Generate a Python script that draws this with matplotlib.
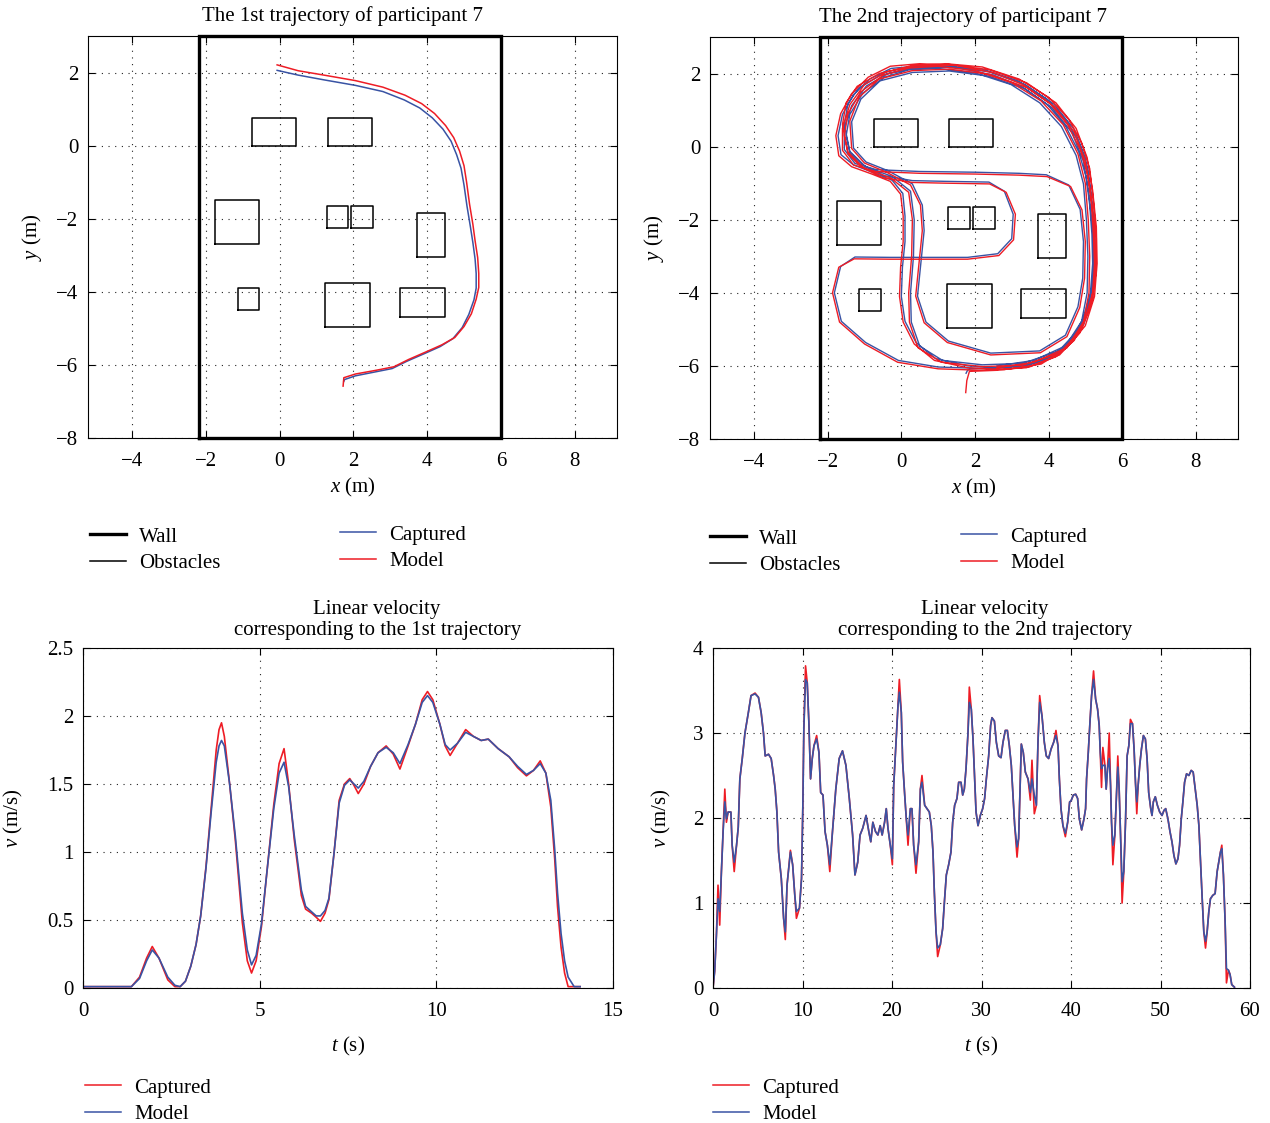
import numpy as np
import matplotlib
matplotlib.use("Agg")
from matplotlib import pyplot as plt
from matplotlib.lines import Line2D

plt.rcParams['font.family'] = ['Liberation Serif', 'DejaVu Serif']
plt.rcParams['font.size'] = 15
plt.rcParams['mathtext.fontset'] = 'custom'
plt.rcParams['mathtext.rm'] = 'Liberation Serif'
plt.rcParams['mathtext.it'] = 'Liberation Serif:italic'

RED = '#ee1c25'
BLUE = '#3953a4'

# ---- room (wall + obstacles), same for both trajectories ----
wall = [-2.2, 6.0, -8.0, 3.0]          # x0, x1, y0, y1
obstacles = [                           # x0, x1, y0, y1
    [-0.75, 0.45, 0.0, 0.75],
    [1.3, 2.5, 0.0, 0.75],
    [-1.75, -0.55, -2.7, -1.5],
    [1.27, 1.86, -2.25, -1.65],
    [1.94, 2.54, -2.25, -1.65],
    [3.72, 4.48, -3.06, -1.83],
    [-1.14, -0.55, -4.49, -3.9],
    [1.23, 2.46, -4.96, -3.77],
    [3.25, 4.48, -4.68, -3.9],
]

# ---- trajectory 1 (x, y) ----
traj1_model = np.array([
    (-0.07, 2.21), (0.5, 2.05), (1.2, 1.93), (2.05, 1.78), (2.8, 1.6), (3.4, 1.38),
    (3.85, 1.15), (4.2, 0.88), (4.5, 0.55), (4.72, 0.22), (4.88, -0.15), (5.0, -0.55),
    (5.07, -1.0), (5.15, -1.6), (5.24, -2.15), (5.3, -2.6), (5.37, -3.06), (5.4, -3.5),
    (5.4, -3.88), (5.33, -4.2), (5.2, -4.6), (5.0, -4.95), (4.75, -5.25), (4.4, -5.45),
    (4.0, -5.63), (3.5, -5.85), (3.1, -6.05), (2.6, -6.15), (2.05, -6.25), (1.74, -6.35),
    (1.72, -6.58)])
traj1_capt = np.array([
    (-0.07, 2.06), (0.5, 1.93), (1.2, 1.8), (2.05, 1.65), (2.8, 1.48), (3.38, 1.25),
    (3.8, 1.03), (4.14, 0.76), (4.43, 0.45), (4.65, 0.12), (4.8, -0.25), (4.92, -0.62),
    (5.0, -1.08), (5.08, -1.65), (5.17, -2.2), (5.24, -2.65), (5.3, -3.1), (5.33, -3.5),
    (5.33, -3.9), (5.27, -4.22), (5.13, -4.62), (4.95, -4.98), (4.7, -5.28), (4.35, -5.5),
    (3.95, -5.68), (3.45, -5.9), (3.05, -6.1), (2.55, -6.2), (2.05, -6.3), (1.76, -6.4),
    (1.74, -6.45)])

# ---- trajectory 2 (x, y) ----
traj2_model = np.array([
    (1.75, -6.73), (1.78, -6.4), (1.85, -6.15),
    (2.6, -6.12), (3.5, -6.02), (4.2, -5.75), (4.7, -5.3), (5.0, -4.7), (5.2, -4.0),
    (5.25, -3.2), (5.22, -2.4), (5.17, -1.6), (5.07, -0.8), (4.87, -0.1), (4.52, 0.6),
    (4.02, 1.2), (3.3, 1.7), (2.5, 2.02), (1.5, 2.22), (0.5, 2.27), (-0.3, 2.2),
    (-0.9, 1.9), (-1.35, 1.45), (-1.65, 0.9), (-1.78, 0.3), (-1.7, -0.25), (-1.35, -0.55),
    (-0.8, -0.75), (-0.3, -0.95), (-0.02, -1.3), (0.05, -1.9), (0.05, -2.6), (-0.02, -3.3),
    (-0.05, -4.1), (0.05, -4.8), (0.35, -5.4), (0.9, -5.85), (1.8, -6.05), (2.8, -6.1),
    (3.8, -5.95), (4.5, -5.5),
    (4.95, -4.8), (5.1, -4.0), (5.12, -3.0), (5.08, -2.0), (5.0, -1.0), (4.8, -0.2),
    (4.4, 0.6), (3.8, 1.25), (3.0, 1.75), (2.0, 2.08), (1.0, 2.2), (0.2, 2.15),
    (-0.5, 1.95), (-1.1, 1.5), (-1.45, 0.9), (-1.55, 0.3), (-1.45, -0.2), (-1.1, -0.55),
    (-0.5, -0.85), (0.3, -0.98), (1.2, -1.0), (2.4, -1.02), (2.85, -1.25), (3.1, -1.85),
    (3.05, -2.55), (2.65, -2.98), (1.8, -3.08), (0.8, -3.08), (-0.3, -3.08), (-1.28, -3.07),
    (-1.7, -3.3), (-1.87, -4.0), (-1.68, -4.8), (-1.0, -5.4), (-0.1, -5.9), (1.0, -6.08),
    (2.2, -6.12), (3.4, -6.05), (4.3, -5.7), (4.85, -5.1),
    (5.15, -4.3), (5.3, -3.4), (5.3, -2.5), (5.22, -1.5), (5.12, -0.6), (4.9, 0.1),
    (4.55, 0.75), (4.0, 1.35), (3.2, 1.85), (2.2, 2.18), (1.2, 2.27), (0.3, 2.22),
    (-0.4, 2.05), (-1.0, 1.7), (-1.4, 1.15), (-1.6, 0.5), (-1.6, -0.1), (-1.3, -0.5),
    (-0.7, -0.68), (0.5, -0.73), (2.0, -0.75), (3.2, -0.78), (3.96, -0.82), (4.6, -1.09),
    (4.91, -1.73), (5.0, -2.6), (4.98, -3.6), (4.85, -4.4), (4.5, -5.2), (3.78, -5.64),
    (2.43, -5.7), (1.25, -5.36), (0.62, -4.82), (0.39, -4.09), (0.48, -3.18), (0.57, -2.3),
    (0.52, -1.6), (0.25, -1.05), (-0.4, -0.7), (-1.0, -0.45), (-1.35, -0.05), (-1.4, 0.7),
    (-1.15, 1.35), (-0.6, 1.85), (0.3, 2.08), (1.3, 2.12), (2.4, 1.98), (3.4, 1.62),
    (4.15, 1.1), (4.7, 0.4), (5.0, -0.4), (5.15, -1.3), (5.25, -2.3), (5.28, -3.3),
    (5.2, -4.2), (4.9, -5.0), (4.3, -5.65), (3.3, -5.98), (2.2, -6.02),
    (1.1, -5.9), (0.45, -5.5), (0.22, -4.8), (0.2, -4.0), (0.28, -3.0), (0.3, -2.0),
    (0.2, -1.25), (-0.3, -0.85), (-1.0, -0.6), (-1.45, -0.15), (-1.6, 0.6), (-1.5, 1.2),
    (-1.2, 1.65), (-0.6, 2.0), (0.3, 2.2), (1.3, 2.25), (2.4, 2.1), (3.4, 1.75),
    (4.2, 1.2), (4.75, 0.5), (5.05, -0.3), (5.2, -1.2), (5.3, -2.2), (5.32, -3.2),
    (5.25, -4.1), (5.0, -4.9), (4.5, -5.5), (3.6, -5.9), (2.6, -6.05)])
traj2_capt = np.array([
    (1.76, -6.2), (1.8, -6.12), (1.88, -6.08),
    (2.6, -6.06), (3.5, -5.96), (4.18, -5.7), (4.66, -5.26), (4.95, -4.68), (5.14, -4.0),
    (5.2, -3.2), (5.18, -2.4), (5.12, -1.6), (5.02, -0.82), (4.82, -0.14), (4.47, 0.55),
    (3.98, 1.14), (3.28, 1.64), (2.5, 1.96), (1.5, 2.16), (0.5, 2.21), (-0.28, 2.14),
    (-0.86, 1.85), (-1.3, 1.42), (-1.6, 0.88), (-1.72, 0.3), (-1.64, -0.22), (-1.3, -0.5),
    (-0.76, -0.71), (-0.25, -0.92), (0.04, -1.28), (0.1, -1.9), (0.1, -2.6), (0.03, -3.3),
    (0.0, -4.1), (0.1, -4.78), (0.4, -5.36), (0.93, -5.8), (1.8, -6.0), (2.8, -6.05),
    (3.78, -5.9), (4.46, -5.46),
    (4.9, -4.78), (5.05, -4.0), (5.07, -3.0), (5.03, -2.0), (4.95, -1.02), (4.75, -0.24),
    (4.35, 0.55), (3.76, 1.2), (2.98, 1.7), (2.0, 2.02), (1.0, 2.14), (0.2, 2.1),
    (-0.46, 1.9), (-1.05, 1.46), (-1.4, 0.88), (-1.5, 0.3), (-1.4, -0.16), (-1.05, -0.5),
    (-0.46, -0.8), (0.3, -0.93), (1.2, -0.95), (2.38, -0.97), (2.8, -1.22), (3.04, -1.85),
    (3.0, -2.52), (2.62, -2.93), (1.8, -3.03), (0.8, -3.03), (-0.3, -3.03), (-1.26, -3.02),
    (-1.65, -3.28), (-1.82, -4.0), (-1.63, -4.78), (-0.97, -5.36), (-0.08, -5.85), (1.0, -6.03),
    (2.2, -6.07), (3.38, -6.0), (4.26, -5.66), (4.8, -5.07),
    (5.1, -4.3), (5.25, -3.4), (5.25, -2.5), (5.17, -1.5), (5.07, -0.62), (4.85, 0.06),
    (4.5, 0.7), (3.96, 1.3), (3.18, 1.8), (2.2, 2.12), (1.2, 2.21), (0.3, 2.16),
    (-0.36, 2.0), (-0.95, 1.66), (-1.35, 1.12), (-1.55, 0.5), (-1.55, -0.08), (-1.26, -0.46),
    (-0.68, -0.63), (0.5, -0.68), (2.0, -0.7), (3.2, -0.73), (3.94, -0.77), (4.55, -1.05),
    (4.86, -1.72), (4.95, -2.6), (4.93, -3.6), (4.8, -4.38), (4.46, -5.16), (3.76, -5.59),
    (2.43, -5.65), (1.28, -5.32), (0.67, -4.8), (0.44, -4.09), (0.53, -3.18), (0.62, -2.3),
    (0.57, -1.6), (0.3, -1.02), (-0.36, -0.66), (-0.96, -0.42), (-1.3, -0.04), (-1.35, 0.68),
    (-1.1, 1.3), (-0.58, 1.8), (0.3, 2.03), (1.3, 2.07), (2.38, 1.93), (3.36, 1.58),
    (4.1, 1.06), (4.64, 0.38), (4.95, -0.4), (5.1, -1.3), (5.2, -2.3), (5.23, -3.3),
    (5.15, -4.18), (4.86, -4.96), (4.27, -5.6), (3.3, -5.93), (2.2, -5.97),
    (1.12, -5.85), (0.5, -5.46), (0.27, -4.8), (0.25, -4.0), (0.33, -3.0), (0.35, -2.0),
    (0.25, -1.22), (-0.26, -0.81), (-0.96, -0.56), (-1.4, -0.13), (-1.55, 0.6), (-1.45, 1.18),
    (-1.16, 1.6), (-0.58, 1.95), (0.3, 2.14), (1.3, 2.19), (2.38, 2.05), (3.36, 1.7),
    (4.15, 1.16), (4.7, 0.47), (5.0, -0.3), (5.15, -1.2), (5.25, -2.2), (5.27, -3.2),
    (5.2, -4.08), (4.96, -4.86), (4.47, -5.45), (3.6, -5.85), (2.6, -6.0)])

# ---- velocity of trajectory 1 ----
t1 = [0, 0.5, 1.0, 1.37, 1.6, 1.8, 1.96, 2.15, 2.4, 2.6, 2.75, 2.9, 3.05, 3.2, 3.33,
      3.48, 3.63, 3.77, 3.85, 3.92, 4.0, 4.15, 4.31, 4.51, 4.65, 4.77, 4.9, 5.05, 5.2,
      5.4, 5.55, 5.69, 5.82, 5.98, 6.18, 6.3, 6.47, 6.6, 6.72, 6.85, 6.96, 7.1, 7.25,
      7.4, 7.55, 7.67, 7.79, 7.95, 8.14, 8.35, 8.58, 8.78, 8.97, 9.2, 9.41, 9.6, 9.75,
      9.9, 10.1, 10.25, 10.39, 10.6, 10.83, 11.05, 11.27, 11.47, 11.75, 12.06, 12.3,
      12.55, 12.75, 12.94, 13.1, 13.24, 13.35, 13.43, 13.53, 13.63, 13.73, 13.9, 14.07]
v1_capt = [0.01, 0.01, 0.01, 0.01, 0.08, 0.22, 0.305, 0.22, 0.06, 0.01, 0.01, 0.05, 0.16,
           0.32, 0.53, 0.89, 1.33, 1.75, 1.9, 1.95, 1.85, 1.5, 1.09, 0.48, 0.2, 0.11, 0.2,
           0.45, 0.84, 1.35, 1.65, 1.76, 1.5, 1.09, 0.68, 0.58, 0.55, 0.52, 0.49, 0.55, 0.65,
           0.98, 1.38, 1.5, 1.54, 1.49, 1.43, 1.5, 1.63, 1.73, 1.78, 1.72, 1.61, 1.78, 1.94,
           2.12, 2.18, 2.12, 1.94, 1.78, 1.71, 1.8, 1.9, 1.85, 1.82, 1.83, 1.76, 1.7, 1.62,
           1.56, 1.6, 1.67, 1.58, 1.33, 0.95, 0.6, 0.3, 0.11, 0.01, 0.01, 0.01]
v1_model = [0.01, 0.01, 0.01, 0.01, 0.07, 0.2, 0.28, 0.22, 0.08, 0.02, 0.01, 0.05, 0.16,
            0.32, 0.53, 0.88, 1.3, 1.66, 1.78, 1.82, 1.78, 1.5, 1.12, 0.55, 0.28, 0.17, 0.24,
            0.47, 0.84, 1.32, 1.58, 1.66, 1.48, 1.12, 0.72, 0.6, 0.56, 0.53, 0.53, 0.57, 0.66,
            0.98, 1.36, 1.49, 1.53, 1.5, 1.47, 1.52, 1.63, 1.73, 1.77, 1.73, 1.65, 1.79, 1.94,
            2.1, 2.15, 2.1, 1.94, 1.79, 1.75, 1.8, 1.88, 1.85, 1.82, 1.83, 1.76, 1.7, 1.63,
            1.57, 1.6, 1.65, 1.58, 1.38, 1.02, 0.7, 0.4, 0.2, 0.08, 0.01, 0.01]

# ---- velocity of trajectory 2 ----
t2 = [0, 0.19, 0.38, 0.56, 0.75, 0.94, 1.13, 1.32, 1.5, 1.69, 2.0, 2.14, 2.37, 2.63, 2.82,
      3.0, 3.27, 3.57, 3.95, 4.25, 4.7, 5.08, 5.38, 5.64, 5.83, 6.2, 6.5, 6.77, 6.95, 7.14,
      7.33, 7.63, 7.89, 8.08, 8.27, 8.65, 8.9, 9.14, 9.32, 9.66, 9.89, 10.04, 10.15, 10.34,
      10.53, 10.71, 10.9, 11.09, 11.28, 11.58, 11.84, 12.03, 12.29, 12.52, 12.78, 13.05,
      13.35, 13.72, 14.1, 14.47, 14.85, 15.23, 15.6, 15.86, 16.17, 16.43, 16.73, 17.1,
      17.41, 17.63, 17.86, 18.16, 18.42, 18.68, 18.9, 19.17, 19.36, 19.55, 19.81, 20.04,
      20.19, 20.45, 20.67, 20.82, 21.04, 21.19, 21.42, 21.6, 21.79, 22.05, 22.23, 22.42,
      22.68, 22.98, 23.17, 23.35, 23.65, 23.91, 24.17, 24.39, 24.58, 24.73, 24.92, 25.1,
      25.4, 25.66, 25.88, 26.07, 26.33, 26.59, 26.78, 27.0, 27.26, 27.45, 27.71, 27.9,
      28.08, 28.27, 28.49, 28.64, 28.86, 29.05, 29.2, 29.39, 29.61, 29.87, 30.13, 30.35,
      30.54, 30.8, 31.02, 31.17, 31.44, 31.66, 31.92, 32.18, 32.4, 32.66, 32.89, 33.11,
      33.33, 33.52, 33.71, 33.97, 34.15, 34.3, 34.45, 34.67, 34.9, 35.2, 35.46, 35.64,
      35.9, 36.13, 36.31, 36.5, 36.76, 37.02, 37.24, 37.5, 37.77, 38.06, 38.32, 38.55,
      38.7, 38.88, 39.1, 39.37, 39.63, 39.85, 40.0, 40.26, 40.52, 40.74, 40.93, 41.19,
      41.45, 41.63, 41.74, 41.93, 42.12, 42.3, 42.52, 42.75, 42.97, 43.15, 43.27, 43.41,
      43.56, 43.79, 43.93, 44.08, 44.27, 44.42, 44.53, 44.68, 44.9, 45.08, 45.23, 45.38,
      45.57, 45.71, 45.9, 46.09, 46.27, 46.46, 46.64, 46.87, 47.05, 47.2, 47.35, 47.5,
      47.68, 47.87, 48.09, 48.31, 48.5, 48.68, 48.91, 49.05, 49.2, 49.42, 49.65, 49.91,
      50.17, 50.39, 50.58, 50.83, 51.06, 51.28, 51.5, 51.72, 51.95, 52.13, 52.32, 52.5,
      52.69, 52.91, 53.17, 53.43, 53.65, 53.88, 54.1, 54.29, 54.47, 54.66, 54.84, 55.03,
      55.21, 55.4, 55.58, 55.84, 56.1, 56.33, 56.51, 56.7, 56.85, 57.03, 57.22, 57.37,
      57.59, 57.77, 57.96, 58.26]
v2_model = [0, 0.2, 0.62, 1.05, 0.9, 1.37, 1.84, 2.19, 1.99, 2.07, 2.07, 1.68, 1.48, 1.68, 1.89,
            2.46, 2.7, 3.0, 3.24, 3.44, 3.46, 3.42, 3.24, 3.0, 2.73, 2.75, 2.7, 2.5, 2.34, 2.07,
            1.6, 1.29, 0.82, 0.66, 1.21, 1.6, 1.45, 1.09, 0.9, 0.94, 1.29, 2.15, 3.05, 3.63,
            3.59, 3.13, 2.46, 2.7, 2.85, 2.93, 2.77, 2.3, 2.27, 1.84, 1.68, 1.45,
            1.84, 2.34, 2.7, 2.79, 2.62, 2.23, 1.8, 1.33, 1.48, 1.8, 1.88, 2.03,
            1.84, 1.72, 1.95, 1.84, 1.8, 1.91, 1.8, 1.95, 2.11, 1.88, 1.68, 1.52,
            2.38, 2.89, 3.32, 3.48, 3.24, 2.66, 2.27, 1.99, 1.8, 2.11, 2.11, 1.68,
            1.45, 1.72, 2.34, 2.42, 2.15, 2.11, 2.07, 1.91, 1.6, 1.13, 0.66, 0.47,
            0.51, 0.7, 1.05, 1.33, 1.45, 1.6, 1.95, 2.15, 2.23, 2.42, 2.42, 2.27,
            2.34, 2.58, 3.0, 3.36, 3.28, 2.93, 2.54, 2.07, 1.91, 2.03, 2.11, 2.23,
            2.46, 2.73, 3.09, 3.18, 3.14, 2.89, 2.73, 2.71, 2.89, 3.03, 3.03, 2.85,
            2.62, 2.27, 1.91, 1.66, 1.76, 2.3, 2.87, 2.77, 2.54, 2.46, 2.3, 2.46,
            2.27, 2.15, 2.89, 3.36, 3.2, 2.89, 2.73, 2.7, 2.81, 2.89, 2.97, 2.85,
            2.46, 2.11, 1.91, 1.82, 1.95, 2.19, 2.2, 2.27, 2.28, 2.23, 1.99, 1.86,
            1.99, 2.11, 2.46, 2.77, 3.13, 3.44, 3.63, 3.4, 3.28, 3.09, 2.77, 2.58,
            2.62, 2.62, 2.34, 2.58, 2.7, 2.38, 1.95, 1.68, 1.8, 2.27, 2.6, 2.34,
            1.68, 1.25, 1.37, 1.95, 2.73, 2.85, 3.11, 3.11, 2.81, 2.42, 2.19, 2.38,
            2.62, 2.81, 2.97, 2.93, 2.7, 2.3, 2.11, 2.03, 2.19, 2.25, 2.15, 2.07,
            2.03, 2.09, 2.11, 1.99, 1.84, 1.72, 1.56, 1.46, 1.52, 1.68, 1.99, 2.19,
            2.42, 2.52, 2.5, 2.56, 2.54, 2.34, 2.15, 1.91, 1.48, 1.05, 0.66, 0.55,
            0.66, 0.9, 1.05, 1.09, 1.11, 1.37, 1.48, 1.6, 1.64, 1.33, 0.78, 0.23,
            0.21, 0.16, 0.04, 0.01]
v2_capt = [0, 0.2, 0.62, 1.21, 0.74, 1.37, 1.84, 2.34, 1.95, 2.07, 2.07, 1.68, 1.37, 1.68, 1.89,
           2.46, 2.7, 3.0, 3.24, 3.44, 3.47, 3.42, 3.24, 3.0, 2.73, 2.75, 2.7, 2.5, 2.34, 2.07,
           1.6, 1.29, 0.82, 0.57, 1.21, 1.62, 1.45, 1.09, 0.82, 0.94, 1.29, 2.15, 3.05, 3.79,
           3.59, 3.13, 2.46, 2.7, 2.85, 2.97, 2.77, 2.3, 2.27, 1.84, 1.68, 1.37,
           1.84, 2.34, 2.7, 2.79, 2.62, 2.23, 1.8, 1.33, 1.48, 1.8, 1.88, 2.03,
           1.84, 1.72, 1.95, 1.84, 1.8, 1.91, 1.8, 1.95, 2.11, 1.88, 1.68, 1.45,
           2.38, 2.89, 3.32, 3.63, 3.24, 2.66, 2.27, 1.99, 1.68, 2.11, 2.11, 1.68,
           1.35, 1.72, 2.34, 2.5, 2.15, 2.11, 2.07, 1.91, 1.6, 1.13, 0.66, 0.37,
           0.51, 0.7, 1.05, 1.33, 1.45, 1.6, 1.95, 2.15, 2.23, 2.42, 2.42, 2.27,
           2.34, 2.58, 3.0, 3.54, 3.28, 2.93, 2.54, 2.07, 1.91, 2.03, 2.11, 2.23,
           2.46, 2.73, 3.09, 3.18, 3.14, 2.89, 2.73, 2.71, 2.89, 3.03, 3.03, 2.85,
           2.62, 2.27, 1.91, 1.54, 1.76, 2.3, 2.87, 2.77, 2.54, 2.46, 2.21, 2.68,
           2.05, 2.15, 2.89, 3.44, 3.2, 2.89, 2.73, 2.7, 2.81, 2.89, 3.03, 2.85,
           2.46, 2.11, 1.91, 1.78, 1.95, 2.19, 2.2, 2.27, 2.28, 2.23, 1.99, 1.86,
           1.99, 2.11, 2.46, 2.77, 3.13, 3.44, 3.73, 3.4, 3.28, 3.09, 2.77, 2.36,
           2.83, 2.62, 2.34, 2.58, 3.0, 2.38, 1.95, 1.45, 1.8, 2.27, 2.73, 2.34,
           1.68, 1.0, 1.37, 1.95, 2.73, 2.85, 3.16, 3.11, 2.81, 2.42, 2.05, 2.38,
           2.62, 2.81, 2.97, 2.93, 2.7, 2.3, 2.11, 2.03, 2.19, 2.25, 2.15, 2.07,
           2.03, 2.09, 2.11, 1.99, 1.84, 1.72, 1.56, 1.46, 1.52, 1.68, 1.99, 2.19,
           2.42, 2.52, 2.5, 2.56, 2.54, 2.34, 2.15, 1.91, 1.48, 1.05, 0.66, 0.47,
           0.66, 0.9, 1.05, 1.09, 1.11, 1.37, 1.48, 1.6, 1.68, 1.33, 0.78, 0.06,
           0.21, 0.16, 0.04, 0.01]

W, H = 1270, 1123
fig = plt.figure(figsize=(W / 100, H / 100), dpi=100)


def px_axes(left, top, right, bottom):
    return fig.add_axes([left / W, 1 - bottom / H, (right - left) / W, (bottom - top) / H])


def style(ax):
    ax.tick_params(direction='in', top=True, right=True, length=5, width=0.8)
    ax.tick_params(axis='x', pad=10)
    ax.tick_params(axis='y', pad=7)
    ax.grid(True, linestyle=(0, (1, 5)), color='#222222', linewidth=0.8)
    ax.set_axisbelow(True)
    for s in ax.spines.values():
        s.set_linewidth(0.8)


def room(ax):
    for x0, x1, y0, y1 in obstacles:
        ax.plot([x0, x1, x1, x0, x0], [y0, y0, y1, y1, y0], color='black', lw=1.1)
    x0, x1, y0, y1 = wall
    ax.plot([x0, x1, x1, x0, x0], [y0, y0, y1, y1, y0], color='black', lw=2.4,
            clip_on=False, solid_joinstyle='miter')
    ax.set_xlim(-5.2, 9.15)
    ax.set_ylim(-8, 3)
    ax.set_xticks([-4, -2, 0, 2, 4, 6, 8])
    ax.set_yticks([-8, -6, -4, -2, 0, 2])
    ax.set_xlabel('$x$ (m)', labelpad=4)
    ax.set_ylabel('$y$ (m)', labelpad=9)


ax1 = px_axes(88, 36, 617, 438)
style(ax1)
ax1.plot(traj1_capt[:, 0], traj1_capt[:, 1], color=BLUE, lw=1.1)
ax1.plot(traj1_model[:, 0], traj1_model[:, 1], color=RED, lw=1.1)
room(ax1)
ax1.text(0.482, 1.05, 'The 1st trajectory of participant 7', transform=ax1.transAxes,
         ha='center', va='center')

ax2 = px_axes(710, 37, 1238, 439)
style(ax2)
ax2.plot(traj2_capt[:, 0], traj2_capt[:, 1], color=BLUE, lw=1.0)
ax2.plot(traj2_model[:, 0], traj2_model[:, 1], color=RED, lw=1.0)
room(ax2)
ax2.text(0.479, 1.05, 'The 2nd trajectory of participant 7', transform=ax2.transAxes,
         ha='center', va='center')

ax3 = px_axes(83, 648, 613, 988)
style(ax3)
ax3.plot(t1, v1_capt, color=RED, lw=1.2)
ax3.plot(t1, v1_model, color=BLUE, lw=1.2)
ax3.set_xlim(0, 15)
ax3.set_ylim(0, 2.5)
ax3.set_xticks([0, 5, 10, 15])
ax3.set_yticks([0, 0.5, 1, 1.5, 2, 2.5])
ax3.set_yticklabels(['0', '0.5', '1', '1.5', '2', '2.5'])
ax3.set_xlabel('$t$ (s)', labelpad=10)
ax3.set_ylabel('$v$ (m/s)', labelpad=16)
ax3.text(0.555, 1.082, 'Linear velocity\ncorresponding to the 1st trajectory',
         transform=ax3.transAxes, ha='center', va='center', linespacing=1.1)

ax4 = px_axes(713, 648, 1250, 988)
style(ax4)
ax4.plot(t2, v2_capt, color=RED, lw=1.2)
ax4.plot(t2, v2_model, color=BLUE, lw=1.2)
ax4.set_xlim(0, 60)
ax4.set_ylim(0, 4)
ax4.set_xticks([0, 10, 20, 30, 40, 50, 60])
ax4.set_yticks([0, 1, 2, 3, 4])
ax4.set_xlabel('$t$ (s)', labelpad=10)
ax4.set_ylabel('$v$ (m/s)', labelpad=14)
ax4.text(0.506, 1.082, 'Linear velocity\ncorresponding to the 2nd trajectory',
         transform=ax4.transAxes, ha='center', va='center', linespacing=1.1)


def leg(handles, labels, x, y):
    lg = fig.legend(handles, labels, loc='upper left', bbox_to_anchor=(x / W, 1 - y / H),
                    frameon=False, borderpad=0, borderaxespad=0, handlelength=1.75,
                    handletextpad=0.6, labelspacing=0.33, fontsize=15)
    return lg


h_wall = Line2D([], [], color='black', lw=2.4)
h_obs = Line2D([], [], color='black', lw=1.1)
h_blue = Line2D([], [], color=BLUE, lw=1.1)
h_red = Line2D([], [], color=RED, lw=1.1)

leg([h_wall, h_obs], ['Wall', 'Obstacles'], 90, 527)
leg([h_blue, h_red], ['Captured', 'Model'], 340, 525)
leg([h_wall, h_obs], ['Wall', 'Obstacles'], 710, 529)
leg([h_blue, h_red], ['Captured', 'Model'], 961, 527)
leg([h_red, h_blue], ['Captured', 'Model'], 85, 1078)
leg([h_red, h_blue], ['Captured', 'Model'], 713, 1078)

fig.savefig('out.png', dpi=100)
